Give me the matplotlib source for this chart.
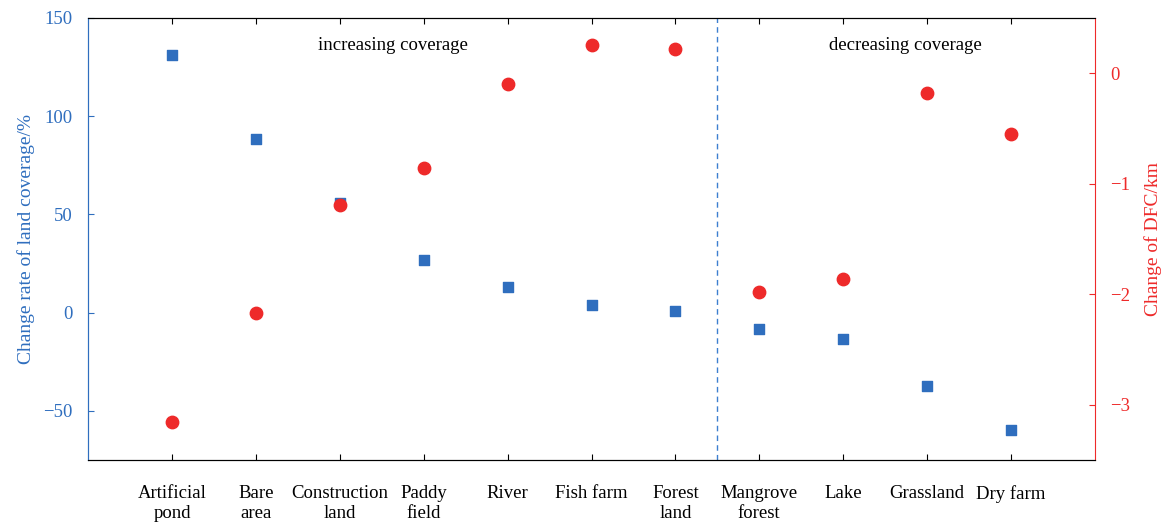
import matplotlib.pyplot as plt

plt.rcParams['font.family'] = ['Liberation Serif', 'DejaVu Serif']

# land cover classes
categories = ["Artificial\npond", "Bare\narea", "Construction\nland", "Paddy\nfield",
              "River", "Fish farm", "Forest\nland", "Mangrove\nforest", "Lake",
              "Grassland", "Dry farm"]
# change rate of land coverage (%)
coverage_rate = [131, 88.5, 56, 27, 13.2, 4, 1, -8.2, -13.2, -37.2, -59.6]
# change of DFC (km)
dfc_change = [-3.16, -2.17, -1.19, -0.86, -0.10, 0.25, 0.22, -1.98, -1.86, -0.18, -0.55]

blue = '#2F6EBE'
red = '#EE2A2A'

fig, ax = plt.subplots(figsize=(11.61, 5.24), dpi=100)
fig.subplots_adjust(left=0.076, right=0.943, top=0.966, bottom=0.122)
ax2 = ax.twinx()

x = list(range(len(categories)))
ax.scatter(x, coverage_rate, marker='s', s=52, color=blue, zorder=3)
ax2.scatter(x, dfc_change, marker='o', s=80, color=red, zorder=3)

ax.set_xlim(-1, 11)
ax.set_ylim(-75, 150)
ax2.set_ylim(-3.5, 0.5)
ax.set_yticks([-50, 0, 50, 100, 150])
ax2.set_yticks([-3, -2, -1, 0])

ax.set_xticks(x)
ax.set_xticklabels(categories, fontsize=13.5, linespacing=1.25)
ax.tick_params(axis='x', direction='in', top=True, length=4, pad=18)
ax.tick_params(axis='y', direction='in', colors=blue, labelsize=13.5, length=4, pad=11)
ax2.tick_params(axis='y', direction='in', colors=red, labelsize=13.5, length=4, pad=11)
ax.tick_params(axis='x', colors='black')

ax.spines['left'].set_color(blue)
ax2.spines['left'].set_color(blue)
ax2.spines['right'].set_color(red)
ax.spines['right'].set_visible(False)

ax.set_ylabel("Change rate of land coverage/%", color=blue, fontsize=14, labelpad=6)
ax2.set_ylabel("Change of DFC/km", color=red, fontsize=14, labelpad=10)

# split between increasing / decreasing classes
ax.axvline(6.5, color='#3D7FD0', linestyle=(0, (4, 3)), linewidth=1)
ax.text(2.63, 136, "increasing coverage", ha='center', va='center', fontsize=13.5)
ax.text(8.74, 136, "decreasing coverage", ha='center', va='center', fontsize=13.5)

plt.savefig("out.png", dpi=100)
